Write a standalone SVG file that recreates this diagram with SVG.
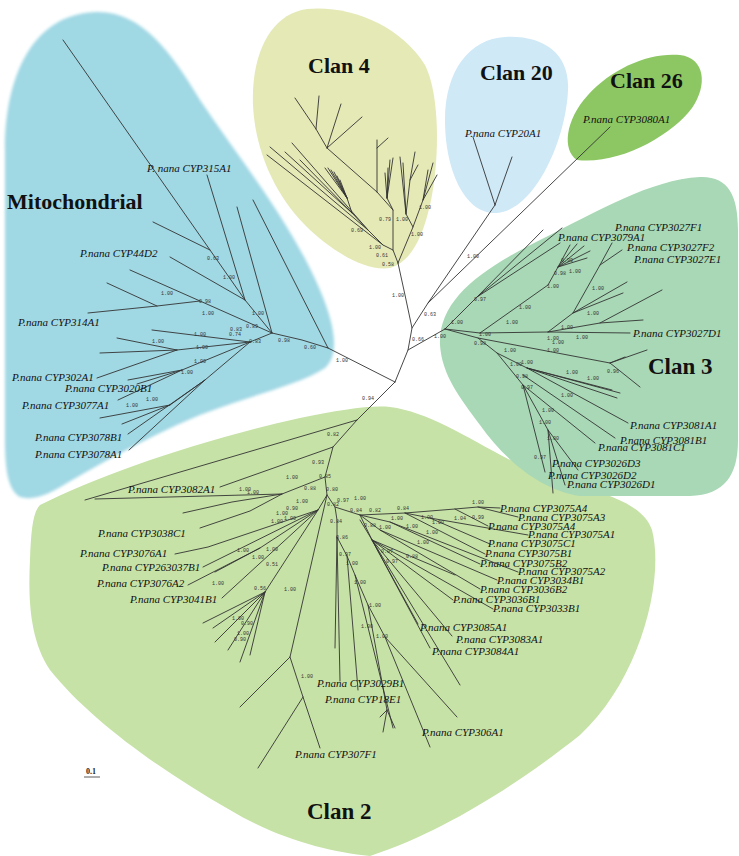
<svg xmlns="http://www.w3.org/2000/svg" width="739" height="856" viewBox="0 0 739 856">
<style>
.br{stroke:#333;stroke-width:0.9;fill:none;stroke-linecap:round}
.lb{font-family:"Liberation Serif",serif;font-style:italic;font-size:11px;fill:#111}
.bs{font-family:"Liberation Mono",monospace;font-size:5px;fill:#333;text-anchor:middle}
.cl{font-family:"Liberation Serif",serif;font-weight:bold;font-size:22px;fill:#111}
</style>
<defs><filter id="soft" x="-5%" y="-5%" width="110%" height="110%"><feGaussianBlur stdDeviation="1.5"/></filter></defs>
<rect width="739" height="856" fill="#fff"/>

<g id="clan2">
<path d="M40,505 C100,475 200,440 300,418 C340,410 370,405 390,407 C430,412 470,440 520,465 C580,490 640,495 652,530 C665,580 640,680 580,735 C530,775 450,830 370,856 C330,852 280,840 230,810 C160,770 90,720 50,670 C30,640 28,600 30,560 C31,530 33,512 40,505 Z" fill="#c6e2a6"/>
<text class="cl" x="307" y="819" style="font-size:23px">Clan 2</text>
</g>
<g id="mitochondrial">
<path filter="url(#soft)" d="M20,497 C8,490 5,470 5,440 L5,150 C5,80 30,15 95,12 C140,10 170,50 200,100 C240,160 290,220 320,290 C335,325 340,355 325,368 C300,385 250,395 200,415 C140,440 90,470 55,490 C42,497 30,500 20,497 Z" fill="#a0d8e4"/>
<text class="cl" x="7" y="209">Mitochondrial</text>
</g>
<g id="clan4">
<path d="M307,9 C350,5 400,25 425,65 C440,95 440,160 430,205 C422,240 410,262 390,268 C365,272 330,250 305,225 C275,195 255,150 253,105 C251,55 270,14 307,9 Z" fill="#e5e9b6"/>
<text class="cl" x="308" y="73">Clan 4</text>
</g>
<g id="clan20">
<path d="M505,37 C545,35 570,55 568,90 C566,140 535,210 497,213 C465,215 445,170 445,120 C445,70 470,39 505,37 Z" fill="#cfe9f7"/>
<text class="cl" x="480" y="80">Clan 20</text>
</g>
<g id="clan26">
<path d="M577,160 C562,150 565,120 588,95 C612,68 650,52 680,55 C705,58 708,85 692,108 C672,135 620,165 577,160 Z" fill="#8dc764"/>
<text class="cl" x="610" y="88">Clan 26</text>
</g>
<g id="clan3">
<path d="M440,345 C438,300 480,270 540,240 C600,210 650,180 700,177 C728,176 738,195 738,230 L738,440 C738,475 725,495 690,496 L580,496 C540,490 505,460 480,425 C460,398 442,375 440,345 Z" fill="#a8d8b5"/>
<text class="cl" x="648" y="374" style="font-size:23px">Clan 3</text>
</g>

<g id="connectors" class="br">
<path d="M395,382 L328,348 M395,382 L408,350 L412,328 L405,295 L398,263 M408,350 L445,329 M412,328 L428,303 L495,205 M428,303 L610,127 M395,382 L357,420"/>
<path d="M495,205 L473,137 M495,205 L512,157"/>
<path d="M328,348 L253,200 M328,348 L302,340 L272,333 L245,300 L210,250 L63,40 M210,250 L153,222 M245,300 L207,175 M245,300 L170,257 M272,333 L237,207 M272,333 L200,301 L130,270 M200,301 L157,306 L88,313 M157,306 L107,283 M272,333 L250,342 M250,342 L152,330 M250,342 L177,350 L117,338 M177,350 L100,353 M177,350 L97,378 M250,342 L182,370 L128,380 M182,370 L137,384 M182,370 L118,400 M250,342 L205,380 L128,434 M205,380 L129,450 M205,380 L170,405 L100,418 M170,405 L122,424"/>
<path d="M398,263 L393,250 L383,245 L267,155 M383,245 L368,230 L270,147 M368,230 L292,143 M368,230 L352,213 L285,152 M352,213 L300,160 M352,213 L347,198 L325,168 M347,198 L328,168 M347,198 L331,170 M347,198 L334,172 M347,198 L337,176 M347,198 L340,180 M393,250 L393,210 L377,192 L327,148 L316,129 L295,98 M316,129 L319,96 M327,148 L341,104 M327,148 L362,117 M377,192 L377,140 M377,148 L388,138 M393,210 L387,198 L393,158 M387,198 L390,160 M387,198 L388,168 M387,198 L385,173 M398,263 L413,227 L406,214 L400,157 M406,214 L403,163 M406,214 L410,180 L415,152 M410,180 L418,165 M413,227 L423,200 L433,163 M423,200 L437,175 M423,200 L428,170"/>
<path d="M445,329 L477,297 L543,230 M477,297 L562,228 M477,297 L560,243 M445,329 L480,333 L548,285 L558,267 L570,245 M558,267 L577,244 M558,267 L584,246 M558,267 L590,251 M558,267 L587,258 M480,333 L548,332 L573,313 L600,265 L612,243 M600,265 L622,250 M573,313 L627,282 M573,313 L623,293 M548,332 L600,323 L662,290 M600,323 L643,320 M548,332 L630,333 M445,329 L478,338 L610,363 L647,350 M610,363 L625,357 M610,363 L640,387 M478,338 L497,353 L527,368 L620,393 M527,368 L617,398 M527,368 L612,390 M527,368 L628,423 M523,375 L615,438 M497,353 L523,385 L545,472 M523,385 L595,443 M523,385 L548,430 L553,493 M548,430 L565,485 M548,430 L578,470"/>
<path d="M357,420 L85,500 M357,420 L333,447 L220,487 M333,447 L325,477 L282,494 L95,499 M282,494 L232,502 L183,513 M282,494 L250,511 L200,528 M325,477 L327,495 L318,510 L208,547 L175,554 M318,510 L203,567 M318,510 L260,548 L188,585 M260,548 L215,572 M318,510 L222,598 M318,510 L265,592 L203,623 M265,592 L213,628 M265,592 L215,642 M265,592 L228,650 M265,592 L240,662 M265,592 L250,655 M327,495 L290,657 L240,707 M290,657 L303,697 L320,748 M303,697 L258,768"/>
<path d="M327,495 L335,507 L337,520 L337,537 L335,648 M337,537 L340,681 M337,537 L347,556 L358,690 M347,556 L355,575 L393,728 M355,575 L368,605 L387,710 M387,710 L380,717 M387,710 L383,732 M387,710 L395,728 M368,605 L385,637 L430,747 M385,637 L457,717 M360,520 L460,685"/>
<path d="M335,507 L360,515 L405,513 L455,509 L478,507 L500,508 M478,507 L518,517 M455,509 L488,526 M405,513 L430,518 L528,535 M430,518 L490,544 M405,513 L485,554 M360,515 L390,522 L480,564 M390,522 L518,572 M360,515 L380,530 L497,580 M380,530 L480,589 M360,515 L372,540 L455,575 M372,540 L453,600 M372,540 L493,609 M372,540 L418,624 M372,540 L452,636 M372,540 L430,648"/>
</g>

<g id="leaves">
<text id="l315A1" class="lb" x="147" y="172">P. nana CYP315A1</text>
<text id="l44D2" class="lb" x="80" y="257">P.nana CYP44D2</text>
<text id="l314A1" class="lb" x="18" y="326">P.nana CYP314A1</text>
<text id="l302A1" class="lb" x="12" y="381">P.nana CYP302A1</text>
<text id="l3020B1" class="lb" x="65" y="392">P.nana CYP3020B1</text>
<text id="l3077A1" class="lb" x="22" y="409">P.nana CYP3077A1</text>
<text id="l3078B1" class="lb" x="35" y="441">P.nana CYP3078B1</text>
<text id="l3078A1" class="lb" x="35" y="458">P.nana CYP3078A1</text>
<text id="l20A1" class="lb" x="465" y="137">P.nana CYP20A1</text>
<text id="l3080A1" class="lb" x="583" y="123">P.nana CYP3080A1</text>
<text id="l3027F1" class="lb" x="615" y="231">P.nana CYP3027F1</text>
<text id="l3079A1" class="lb" x="558" y="241">P.nana CYP3079A1</text>
<text id="l3027F2" class="lb" x="627" y="251">P.nana CYP3027F2</text>
<text id="l3027E1" class="lb" x="634" y="263">P.nana CYP3027E1</text>
<text id="l3027D1" class="lb" x="633" y="337">P.nana CYP3027D1</text>
<text id="l3081A1" class="lb" x="630" y="429">P.nana CYP3081A1</text>
<text id="l3081B1" class="lb" x="620" y="444">P.nana CYP3081B1</text>
<text id="l3081C1" class="lb" x="598" y="451">P.nana CYP3081C1</text>
<text id="l3026D3" class="lb" x="552" y="467">P.nana CYP3026D3</text>
<text id="l3026D2" class="lb" x="548" y="479">P.nana CYP3026D2</text>
<text id="l3026D1" class="lb" x="567" y="488">P.nana CYP3026D1</text>
<text id="l3082A1" class="lb" x="128" y="493">P.nana CYP3082A1</text>
<text id="l3038C1" class="lb" x="98" y="537">P.nana CYP3038C1</text>
<text id="l3076A1" class="lb" x="80" y="557">P.nana CYP3076A1</text>
<text id="l263037B1" class="lb" x="102" y="571">P.nana CYP263037B1</text>
<text id="l3076A2" class="lb" x="97" y="587">P.nana CYP3076A2</text>
<text id="l3041B1" class="lb" x="130" y="603">P.nana CYP3041B1</text>
<text id="l3075A4a" class="lb" x="500" y="512">P.nana CYP3075A4</text>
<text id="l3075A3" class="lb" x="518" y="521">P.nana CYP3075A3</text>
<text id="l3075A4b" class="lb" x="488" y="530">P.nana CYP3075A4</text>
<text id="l3075A1" class="lb" x="528" y="538">P.nana CYP3075A1</text>
<text id="l3075C1" class="lb" x="488" y="547">P.nana CYP3075C1</text>
<text id="l3075B1" class="lb" x="485" y="557">P.nana CYP3075B1</text>
<text id="l3075B2" class="lb" x="480" y="567">P.nana CYP3075B2</text>
<text id="l3075A2" class="lb" x="518" y="575">P.nana CYP3075A2</text>
<text id="l3034B1" class="lb" x="497" y="584">P.nana CYP3034B1</text>
<text id="l3036B2" class="lb" x="480" y="593">P.nana CYP3036B2</text>
<text id="l3036B1" class="lb" x="453" y="603">P.nana CYP3036B1</text>
<text id="l3033B1" class="lb" x="493" y="612">P.nana CYP3033B1</text>
<text id="l3085A1" class="lb" x="420" y="631">P.nana CYP3085A1</text>
<text id="l3083A1" class="lb" x="456" y="643">P.nana CYP3083A1</text>
<text id="l3084A1" class="lb" x="432" y="655">P.nana CYP3084A1</text>
<text id="l3029B1" class="lb" x="317" y="687">P.nana CYP3029B1</text>
<text id="l18E1" class="lb" x="325" y="703">P.nana CYP18E1</text>
<text id="l306A1" class="lb" x="422" y="736">P.nana CYP306A1</text>
<text id="l307F1" class="lb" x="295" y="758">P.nana CYP307F1</text>
</g>

<g id="support" class="bs">
<text x="368" y="400">0.94</text><text x="342" y="362">1.00</text><text x="418" y="341">0.66</text><text x="398" y="297">1.00</text><text x="430" y="316">0.63</text><text x="473" y="258">1.00</text><text x="310" y="349">0.60</text><text x="284" y="342">0.98</text>
<text x="357" y="232">0.69</text><text x="375" y="249">1.00</text><text x="382" y="257">0.61</text><text x="388" y="266">0.58</text><text x="385" y="221">0.79</text><text x="402" y="221">1.00</text><text x="417" y="236">1.00</text><text x="425" y="209">1.00</text>
<text x="213" y="260">0.63</text><text x="229" y="279">1.00</text><text x="167" y="295">1.00</text><text x="205" y="303">0.98</text><text x="208" y="315">1.00</text><text x="258" y="315">1.00</text><text x="252" y="328">0.89</text><text x="236" y="331">0.83</text><text x="235" y="336">0.74</text><text x="200" y="336">1.00</text><text x="255" y="343">0.83</text><text x="158" y="343">1.00</text><text x="202" y="349">1.00</text><text x="200" y="363">1.00</text><text x="187" y="374">1.00</text><text x="152" y="401">1.00</text><text x="132" y="407">1.00</text>
<text x="440" y="338">1.00</text><text x="457" y="324">1.00</text><text x="480" y="301">0.97</text><text x="485" y="336">1.00</text><text x="525" y="309">1.00</text><text x="553" y="288">1.00</text><text x="560" y="275">0.98</text><text x="575" y="273">1.00</text><text x="567" y="262">0.99</text><text x="512" y="324">1.00</text><text x="553" y="340">1.00</text><text x="567" y="329">1.00</text><text x="582" y="339">1.00</text><text x="598" y="290">1.00</text><text x="593" y="315">1.00</text><text x="480" y="345">0.98</text><text x="510" y="352">1.00</text><text x="558" y="344">1.00</text><text x="553" y="352">1.00</text><text x="613" y="373">0.96</text><text x="516" y="366">1.00</text><text x="527" y="364">1.00</text><text x="572" y="374">1.00</text><text x="593" y="380">1.00</text><text x="522" y="378">0.98</text><text x="527" y="389">0.97</text><text x="567" y="397">1.00</text><text x="548" y="412">1.00</text><text x="545" y="424">1.00</text><text x="553" y="440">1.00</text><text x="540" y="459">0.97</text>
<text x="333" y="436">0.82</text><text x="318" y="464">0.93</text><text x="292" y="479">1.00</text><text x="325" y="478">0.85</text><text x="245" y="491">1.00</text><text x="253" y="494">1.00</text><text x="310" y="490">0.88</text><text x="332" y="491">0.80</text><text x="343" y="502">0.97</text><text x="333" y="506">0.82</text><text x="360" y="500">1.00</text><text x="356" y="512">0.84</text><text x="375" y="512">0.82</text><text x="403" y="510">0.84</text><text x="478" y="504">1.00</text><text x="397" y="520">1.00</text><text x="427" y="519">1.00</text><text x="460" y="520">1.04</text><text x="478" y="519">0.99</text><text x="438" y="524">1.00</text><text x="412" y="528">1.00</text><text x="432" y="534">1.00</text><text x="423" y="544">1.00</text><text x="370" y="527">0.88</text><text x="385" y="529">1.00</text><text x="387" y="553">0.97</text><text x="412" y="558">0.88</text><text x="392" y="563">0.97</text><text x="336" y="523">0.84</text><text x="342" y="539">0.86</text><text x="345" y="556">0.97</text><text x="352" y="565">1.00</text><text x="360" y="584">1.00</text><text x="375" y="607">1.00</text><text x="367" y="628">1.00</text><text x="382" y="638">1.00</text><text x="302" y="503">1.00</text><text x="292" y="510">0.90</text><text x="282" y="515">1.00</text><text x="277" y="523">1.00</text><text x="290" y="520">1.00</text><text x="243" y="552">1.00</text><text x="272" y="551">1.00</text><text x="258" y="559">1.00</text><text x="272" y="566">0.51</text><text x="260" y="590">0.56</text><text x="290" y="591">1.00</text><text x="218" y="585">1.00</text><text x="307" y="678">1.00</text><text x="238" y="620">1.00</text><text x="247" y="625">0.90</text><text x="243" y="635">1.00</text><text x="240" y="641">0.90</text>
</g>

<g id="scalebar">
<text x="86" y="774" style="font-family:'Liberation Serif',serif;font-weight:bold;font-size:8px;fill:#222">0.1</text>
<line x1="84" y1="777" x2="100" y2="777" stroke="#333" stroke-width="0.8"/>
</g>
</svg>
